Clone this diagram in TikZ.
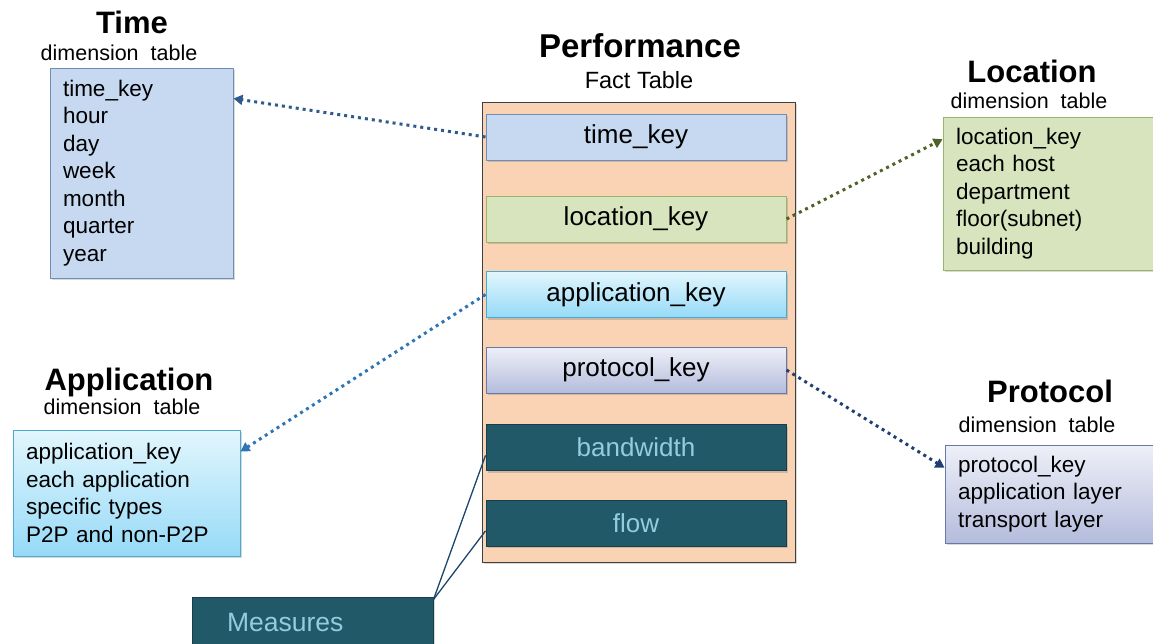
\documentclass[tikz,border=0pt]{standalone}
\usepackage{fontspec}
\setmainfont{Liberation Sans}
\usetikzlibrary{arrows.meta}
\usetikzlibrary{shadows}
\usetikzlibrary{positioning}

\definecolor{factbg}{HTML}{FAD3B5}
\definecolor{timefill}{HTML}{C6D9F1}
\definecolor{timeline}{HTML}{6F8DB5}
\definecolor{locfill}{HTML}{D7E4BD}
\definecolor{locline}{HTML}{98B56B}
\definecolor{apptop}{HTML}{E2F6FD}
\definecolor{appbot}{HTML}{96DAF7}
\definecolor{appline}{HTML}{4AAAD2}
\definecolor{prottop}{HTML}{EEF0F8}
\definecolor{protbot}{HTML}{B4BCDC}
\definecolor{protline}{HTML}{6A78A8}
\definecolor{measfill}{HTML}{215968}
\definecolor{meastext}{HTML}{93CDDD}
\definecolor{timearr}{HTML}{2F5A8E}
\definecolor{locarr}{HTML}{4F6228}
\definecolor{apparr}{HTML}{2E75B6}
\definecolor{protarr}{HTML}{1F3F73}

\begin{document}
\begin{tikzpicture}[x=1pt,y=-1pt]
	\clip (0,0) rectangle (1153,643);
	% fact table
	\node[draw=black!75, line width=1pt, fill=factbg, minimum width=313pt, minimum height=460pt,
	      drop shadow={shadow xshift=2pt, shadow yshift=-2pt, opacity=.3}] (fact) at (638.5,332) {};
	\begin{scope}[every node/.style={draw, line width=1pt, minimum width=300pt, minimum height=46pt,
	              font=\fontsize{26}{30}\selectfont,
	              drop shadow={shadow xshift=2pt, shadow yshift=-2pt, opacity=.35}}]
		\node[fill=timefill, draw=timeline] (tk) at (636,137) {time\_key};
		\node[fill=locfill, draw=locline] (lk) at (636,219) {location\_key};
		\node[top color=apptop, bottom color=appbot, draw=appline] (ak) at (636,294.5) {application\_key};
		\node[top color=prottop, bottom color=protbot, draw=protline] (pk) at (636,370) {protocol\_key};
		\node[fill=measfill, draw=measfill!70!black, text=meastext] (bw) at (636,447.5) {bandwidth};
		\node[fill=measfill, draw=measfill!70!black, text=meastext] (fl) at (636,523) {flow};
	\end{scope}
	% dimension tables
	\begin{scope}[every node/.style={draw, line width=1pt, align=left, inner xsep=13pt, inner ysep=0pt,
	              font=\fontsize{22.5}{27.5}\selectfont,
	              drop shadow={shadow xshift=2pt, shadow yshift=-2pt, opacity=.3}}]
		\node[fill=timefill, draw=timeline, text width=157pt, minimum height=210pt] (timetab) at (141.5,173)
			{time\_key\\hour\\day\\week\\month\\quarter\\year};
		\node[fill=locfill, draw=locline, text width=186pt, minimum height=153pt] (loctab) at (1049,193.5)
			{location\_key\\each host\\department\\floor(subnet)\\building};
		\node[top color=apptop, bottom color=appbot, draw=appline, text width=201pt, minimum height=126pt] (apptab) at (126.5,493)
			{application\_key\\each application\\specific types\\P2P and non-P2P};
		\node[top color=prottop, bottom color=protbot, draw=protline, text width=184pt, minimum height=98pt] (prottab) at (1050,494)
			{protocol\_key\\application layer\\transport layer};
		\node[fill=measfill, draw=measfill!70!black, text=meastext, inner xsep=35pt, text width=171pt,
		      minimum height=52pt, font=\fontsize{26.5}{30}\selectfont] (meas) at (312.5,623) {Measures};
	\end{scope}
	% titles
	\begin{scope}[every node/.style={anchor=base, font=\fontsize{31}{36}\bfseries}]
		\node[font=\fontsize{33}{38}\bfseries] (perft) at (640,57) {Performance};
		\node (timet) at (132,33) {Time};
		\node (loct) at (1032,82) {Location};
		\node (appt) at (129,390) {Application};
		\node (prott) at (1050,402) {Protocol};
	\end{scope}
	\begin{scope}[every node/.style={anchor=base, font=\fontsize{21.5}{26}\selectfont}]
		\node[font=\fontsize{23.5}{28}\selectfont] (facts) at (639,88) {Fact Table};
		\node (times) at (119,60) {dimension\ \ table};
		\node (locs) at (1029,108) {dimension\ \ table};
		\node (apps) at (122,414) {dimension\ \ table};
		\node (prots) at (1037,432) {dimension\ \ table};
	\end{scope}
	% links
	\begin{scope}[line width=3pt, dash pattern=on 3pt off 4pt,
	              -{Triangle[length=9pt, width=10pt]}]
		\path (tk.west) edge[draw=timearr] (timetab.39);
		\path (lk.east) edge[draw=locarr] (loctab.153);
		\path (ak.west) edge[draw=apparr] (apptab.20);
		\path (pk.east) edge[draw=protarr] (prottab.166);
	\end{scope}
	\path[draw=apparr!60!black, line width=1.3pt] (meas.11) edge (bw.183) edge (fl.183);
\end{tikzpicture}
\end{document}
